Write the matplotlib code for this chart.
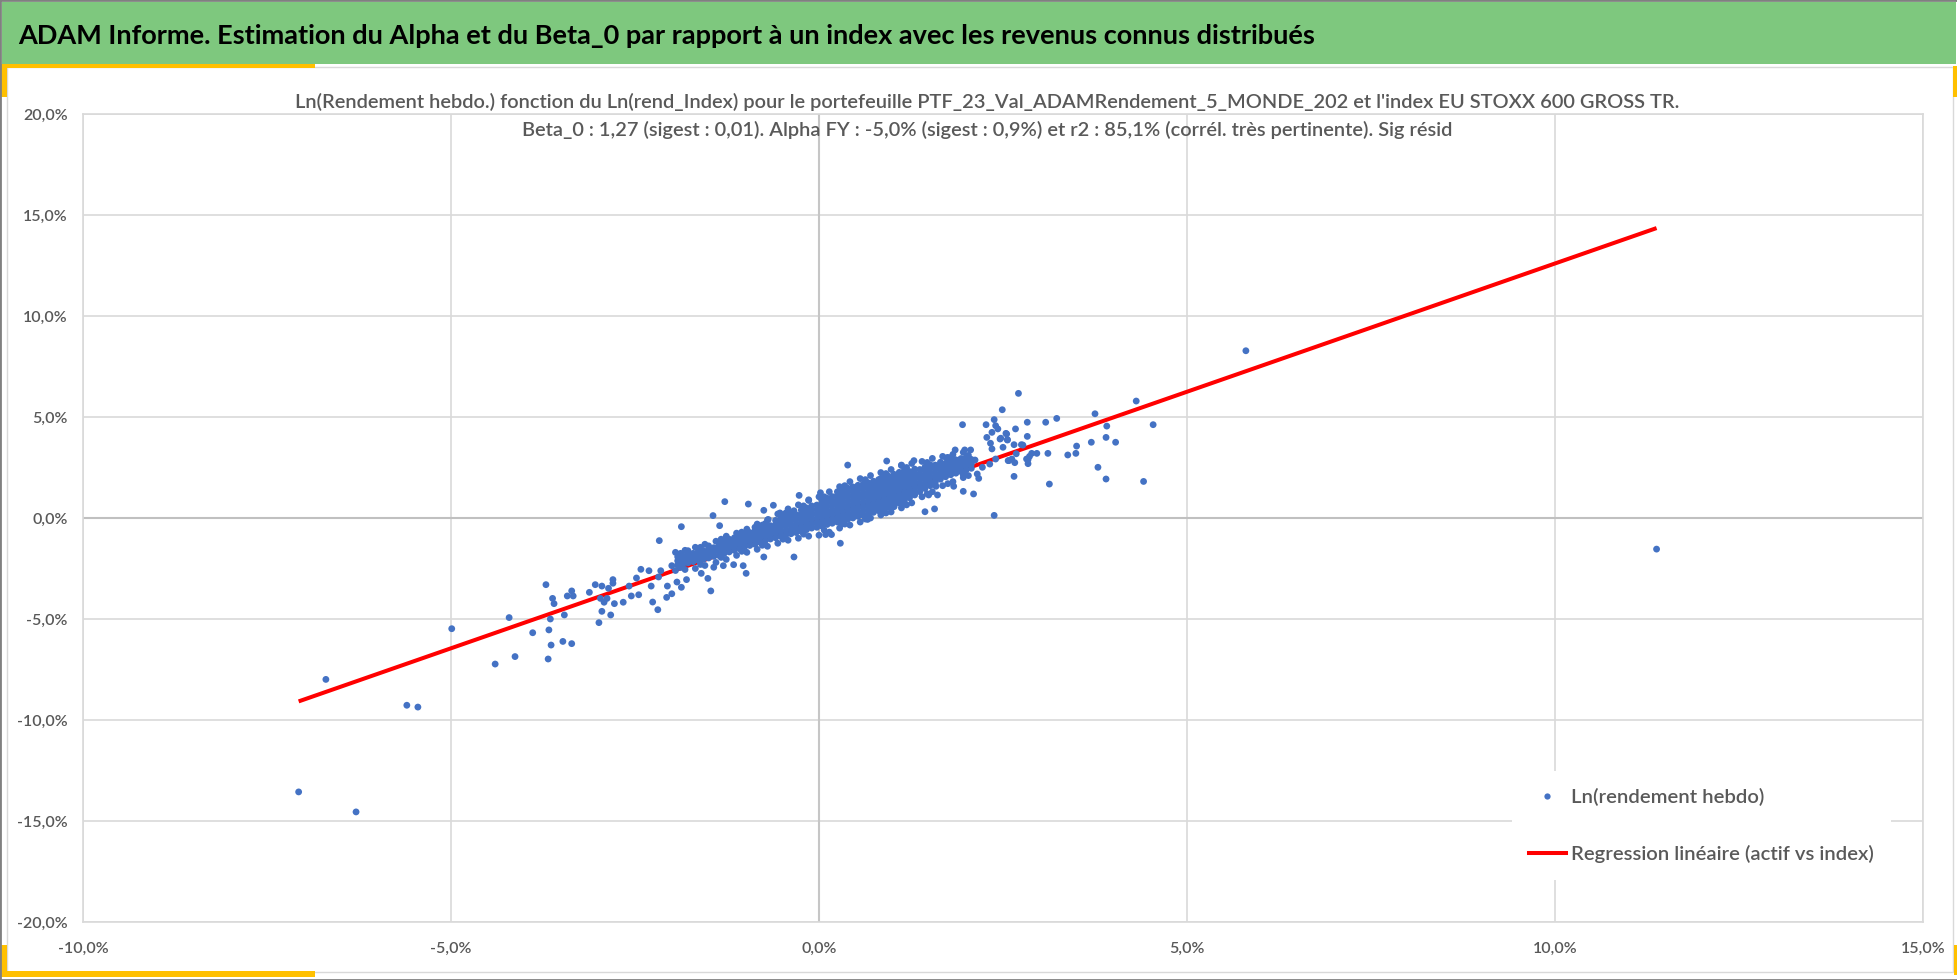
import matplotlib
matplotlib.use("Agg")
import matplotlib.pyplot as plt
from matplotlib import font_manager
from matplotlib.patches import Rectangle
from matplotlib.lines import Line2D
from matplotlib.ticker import FuncFormatter, MultipleLocator

# ---- data (weekly log returns, in %) ----
# dense core of the cloud, read column by column
core_cols = [
    (-1.92, [-2.32, -2.12, -1.92]),
    (-1.85, [-2.28, -2.08, -1.88]),
    (-1.78, [-2.22, -2.0, -1.8, -1.62]),
    (-1.71, [-2.16, -1.95, -1.75]),
    (-1.64, [-2.1, -1.9, -1.7, -1.55]),
    (-1.57, [-2.04, -1.82, -1.62]),
    (-1.50, [-1.98, -1.76, -1.56, -1.38]),
    (-1.43, [-1.9, -1.68, -1.47]),
    (-1.36, [-1.85, -1.62, -1.4, -1.22]),
    (-1.29, [-1.76, -1.54, -1.33, -1.14]),
    (-1.22, [-1.68, -1.46, -1.25, -1.05]),
    (-1.15, [-1.6, -1.38, -1.17, -0.98]),
    (-1.08, [-1.52, -1.3, -1.08, -0.88]),
    (-1.01, [-1.42, -1.22, -1.0, -0.78]),
    (-0.94, [-1.36, -1.14, -0.92, -0.72]),
    (-0.87, [-1.3, -1.08, -0.86, -0.64, -0.46]),
    (-0.80, [-1.2, -0.98, -0.76, -0.55]),
    (-0.73, [-1.12, -0.9, -0.68, -0.46, -0.28]),
    (-0.66, [-1.04, -0.82, -0.6, -0.38]),
    (-0.59, [-0.98, -0.76, -0.54, -0.32, -0.12]),
    (-0.52, [-0.9, -0.68, -0.46, -0.24, -0.02]),
    (-0.45, [-0.84, -0.62, -0.4, -0.18, 0.04]),
    (-0.38, [-0.78, -0.56, -0.34, -0.12, 0.1, 0.25]),
    (-0.31, [-0.72, -0.5, -0.28, -0.06, 0.16]),
    (-0.24, [-0.66, -0.44, -0.22, 0.0, 0.22, 0.4]),
    (-0.17, [-0.58, -0.36, -0.14, 0.08, 0.3, 0.5]),
    (-0.10, [-0.5, -0.28, -0.06, 0.16, 0.38, 0.6]),
    (-0.03, [-0.46, -0.24, -0.02, 0.2, 0.42, 0.64]),
    (0.04, [-0.4, -0.18, 0.04, 0.26, 0.48, 0.7, 0.88]),
    (0.11, [-0.32, -0.1, 0.12, 0.34, 0.56, 0.78, 0.98]),
    (0.18, [-0.26, -0.04, 0.18, 0.4, 0.62, 0.84, 1.06]),
    (0.25, [-0.2, 0.02, 0.24, 0.46, 0.68, 0.9, 1.12, 1.3]),
    (0.32, [-0.12, 0.1, 0.32, 0.54, 0.76, 0.98, 1.2, 1.4]),
    (0.39, [-0.06, 0.16, 0.38, 0.6, 0.82, 1.04, 1.26, 1.48]),
    (0.46, [0.0, 0.22, 0.44, 0.66, 0.88, 1.1, 1.32, 1.54]),
    (0.53, [0.08, 0.3, 0.52, 0.74, 0.96, 1.18, 1.4, 1.62]),
    (0.60, [0.14, 0.36, 0.58, 0.8, 1.02, 1.24, 1.46, 1.68]),
    (0.67, [0.2, 0.42, 0.64, 0.86, 1.08, 1.3, 1.52, 1.74]),
    (0.74, [0.28, 0.5, 0.72, 0.94, 1.16, 1.38, 1.6, 1.82]),
    (0.81, [0.36, 0.58, 0.8, 1.02, 1.24, 1.46, 1.68, 1.9]),
    (0.88, [0.44, 0.66, 0.88, 1.1, 1.32, 1.54, 1.76, 1.98]),
    (0.95, [0.54, 0.76, 0.98, 1.2, 1.42, 1.64, 1.86, 2.06]),
    (1.02, [0.64, 0.86, 1.08, 1.3, 1.52, 1.74, 1.96, 2.16]),
    (1.09, [0.74, 0.96, 1.18, 1.4, 1.62, 1.84, 2.06, 2.26]),
    (1.16, [0.86, 1.08, 1.3, 1.52, 1.74, 1.96, 2.18, 2.36]),
    (1.23, [1.0, 1.22, 1.44, 1.66, 1.88, 2.1, 2.3]),
    (1.30, [1.14, 1.36, 1.58, 1.8, 2.02, 2.22, 2.42]),
    (1.37, [1.3, 1.52, 1.74, 1.96, 2.18, 2.4]),
    (1.44, [1.46, 1.68, 1.9, 2.12, 2.34, 2.52]),
    (1.51, [1.6, 1.82, 2.04, 2.26, 2.48, 2.64]),
    (1.58, [1.76, 1.98, 2.2, 2.42, 2.62]),
    (1.65, [1.92, 2.14, 2.36, 2.58, 2.76]),
    (1.72, [2.04, 2.26, 2.48, 2.7]),
    (1.79, [2.14, 2.36, 2.58, 2.8]),
    (1.86, [2.22, 2.44, 2.66, 2.88]),
    (1.93, [2.3, 2.52, 2.74, 2.94]),
    (2.00, [2.38, 2.6, 2.82, 3.0]),
    (2.07, [2.46, 2.68, 2.9]),
]
core_x = [cx for cx, ys in core_cols for _ in ys]
core_y = [cy for _, ys in core_cols for cy in ys]

# speckled edge of the core band
fringe_x = [-1.95, -1.82, -1.68, -1.55, -1.40, -1.26, -1.12, -0.98, -0.84, -0.70,
            -0.56, -0.42, -0.28, -0.14, 0.00, 0.14, 0.28, 0.42, 0.56, 0.70,
            0.84, 0.98, 1.12, 1.26, 1.40, 1.54, 1.68, 1.82, 1.96,
            -1.95, -1.82, -1.68, -1.55, -1.40, -1.26, -1.12, -0.98, -0.84, -0.70,
            -0.56, -0.42, -0.28, -0.14, 0.00, 0.14, 0.28, 0.42, 0.56, 0.70,
            0.84, 0.98, 1.12, 1.26, 1.40, 1.54, 1.68, 1.82, 1.96,
            -1.88, -1.61, -1.33, -1.05, -0.77, -0.49, -0.21, 0.07, 0.35, 0.63,
            0.91, 1.19, 1.47, 1.75, 2.03,
            -1.88, -1.61, -1.33, -1.05, -0.77, -0.49, -0.21, 0.07, 0.35, 0.63,
            0.91, 1.19, 1.47, 1.75, 2.03]
fringe_y = [-2.60, -2.55, -2.50, -2.35, -2.20, -2.05, -1.85, -1.70, -1.55, -1.40,
            -1.25, -1.10, -1.00, -0.90, -0.85, -0.70, -0.50, -0.35, -0.20, 0.00,
            0.15, 0.30, 0.50, 0.75, 1.05, 1.30, 1.60, 1.80, 2.00,
            -1.70, -1.60, -1.45, -1.30, -1.15, -0.90, -0.75, -0.55, -0.30, -0.10,
            0.20, 0.45, 0.65, 0.90, 1.05, 1.30, 1.55, 1.80, 1.95, 2.10,
            2.25, 2.40, 2.60, 2.70, 2.80, 2.95, 3.05, 3.15, 3.25,
            -2.45, -2.30, -1.95, -1.65, -1.35, -1.05, -0.80, -0.60, -0.30, -0.05,
            0.25, 0.65, 1.20, 1.70, 2.10,
            -1.75, -1.45, -1.05, -0.70, -0.35, 0.05, 0.60, 1.05, 1.60, 1.90,
            2.20, 2.50, 2.75, 3.00, 3.10]

# scattered points around the core
spread_x = [-7.07, -6.29, -6.70, -5.60, -5.45, -4.99, -4.40, -4.21, -4.13, -3.89,
            -3.71, -3.62, -3.60, -3.65, -3.67, -3.64, -3.68, -3.48, -3.36, -3.46,
            -3.42, -3.36, -3.34, -3.12, -3.04, -2.95, -2.97, -2.92, -2.88, -2.86,
            -2.80, -2.80, -2.78, -2.95, -2.83, -2.99,
            0.39, 0.02, -0.14, -0.27, -0.62, -0.75, -0.96, -1.28, -1.44, -1.35,
            -1.87, -2.17, -0.69, -0.53, -0.45, -0.34, 0.10, 0.29, 0.17, 0.09,
            -0.34, -0.75, -0.99, -1.03, -1.16, -1.30, -1.47, -1.51, -1.43, -1.60,
            -1.87, -1.80, -1.93, -2.00, -2.06, -2.07, -2.19, -2.26, -2.28, -2.18,
            -2.15, -2.00, -1.90, -2.42, -2.31, -2.48, -2.45, -2.55, -2.58, -2.66,
            2.71, 2.49, 1.95, 2.27, 2.38, 2.40, 2.43, 2.35, 2.28, 2.46,
            2.54, 2.67, 2.83, 3.08, 3.23, 3.75, 2.83, 2.56, 2.33, 2.35,
            2.50, 2.65, 2.75, 2.89, 2.96, 3.11, 3.38, 3.49, 3.50, 3.70,
            3.79, 3.13, 2.65, 2.38, 2.10, 1.96, 2.15, 2.17, 2.86, 2.82,
            2.62, 2.57, 2.40, 2.32, 2.22, 2.12, 2.06, 1.98, 1.85, 2.04,
            1.93, 1.81, 1.73, 1.29, 0.92, 1.83, 1.96, 1.59, 1.49, 1.61,
            1.44, 1.57, 1.15, 1.02, 0.86, 0.66, 0.31, 0.84, 1.12,
            5.80, 4.31, 4.54, 3.91, 3.90, 4.03, 3.90, 4.41, 2.84, 2.84,
            2.77, 2.68, 2.66, 2.56, 2.55, 2.47, 2.58,
            11.38]
spread_y = [-13.56, -14.55, -7.99, -9.27, -9.36, -5.48, -7.23, -4.93, -6.86, -5.68,
            -3.30, -3.98, -4.24, -5.00, -5.54, -6.29, -6.98, -6.11, -6.22, -4.80,
            -3.86, -3.61, -3.86, -3.68, -3.30, -3.37, -3.98, -4.17, -3.98, -3.48,
            -3.05, -3.23, -4.24, -4.62, -4.80, -5.18,
            2.62, 1.25, 0.87, 1.12, 0.63, 0.38, 0.69, 0.81, 0.12, -0.38,
            -0.43, -1.12, -0.07, 0.25, 0.25, 0.36, 0.97, -1.25, -0.82, -0.82,
            -1.93, -1.93, -2.74, -2.36, -2.31, -2.36, -3.61, -2.99, -2.44, -2.74,
            -3.43, -3.05, -3.17, -3.75, -3.37, -3.93, -4.54, -4.16, -3.37, -2.92,
            -2.61, -2.36, -2.16, -2.54, -2.61, -2.97, -3.80, -3.86, -3.37, -4.17,
            6.17, 5.36, 4.62, 4.62, 4.87, 4.57, 4.41, 4.24, 3.99, 3.91,
            4.19, 4.41, 4.74, 4.74, 4.93, 5.16, 4.04, 3.86, 3.70, 3.42,
            3.50, 3.63, 3.63, 3.20, 3.20, 3.20, 3.12, 3.20, 3.56, 3.75,
            2.51, 1.68, 2.06, 0.13, 1.19, 1.32, 2.18, 1.96, 3.05, 2.92,
            2.92, 2.84, 2.92, 2.67, 2.51, 2.87, 3.37, 3.37, 3.37, 2.92,
            2.92, 3.05, 2.97, 2.84, 2.82, 1.57, 2.14, 1.57, 1.14, 1.14,
            0.31, 0.45, 0.69, 0.56, 0.25, -0.07, -0.30, 1.96, 2.62,
            8.28, 5.79, 4.62, 4.55, 3.99, 3.75, 1.93, 1.81, 2.89, 2.69,
            3.61, 3.18, 2.74, 3.88, 4.16, 3.95, 2.84,
            -1.54]

beta_0 = 1.27
alpha_week = -0.10

title = "ADAM Informe. Estimation du Alpha et du Beta_0 par rapport à un index avec les revenus connus distribués"
sub1 = ("Ln(Rendement hebdo.) fonction du Ln(rend_Index) pour le portefeuille "
        "PTF_23_Val_ADAMRendement_5_MONDE_202 et l'index EU STOXX 600 GROSS TR.")
sub2 = ("Beta_0 : 1,27 (sigest : 0,01). Alpha FY : -5,0% (sigest : 0,9%) et r2 : 85,1% "
        "(corrél. très pertinente). Sig résid")
label_pts = "Ln(rendement hebdo)"
label_reg = "Regression linéaire (actif vs index)"

# ---- fonts ----
names = {f.name for f in font_manager.fontManager.ttflist}
FONT = "Lato" if "Lato" in names else "Liberation Sans"
plt.rcParams["font.family"] = [FONT, "DejaVu Sans"]

GREY_TXT = "#595959"
GRID = "#d9d9d9"
BLUE = "#4472c4"
GOLD = "#ffc000"
GREEN = "#7ec87e"

W, H = 1958, 980
fig = plt.figure(figsize=(W / 100, H / 100), dpi=100)
fig.patch.set_facecolor("white")


def box(x0, y0, x1, y1, color, z=1):
    # pixel box, measured from the top-left corner
    fig.add_artist(Rectangle((x0 / W, 1 - y1 / H), (x1 - x0) / W, (y1 - y0) / H,
                             transform=fig.transFigure, facecolor=color,
                             edgecolor="none", zorder=z))


# frame, banner and gold corners
fig.add_artist(Rectangle((7 / W, 1 - 972 / H), 1946 / W, 905 / H, transform=fig.transFigure,
                         fill=False, edgecolor=GRID, lw=1, zorder=0))
box(2, 2, 1956, 64, GREEN)
box(0, 64, 315, 68, GOLD)
box(0, 64, 7, 97, GOLD)
box(0, 971, 315, 977, GOLD)
box(0, 945, 7, 977, GOLD)
box(1953, 66, 1957, 97, GOLD)
box(1954, 945, 1957, 975, GOLD)
fig.add_artist(Rectangle((0, 0), 1, 1, transform=fig.transFigure, fill=False,
                         edgecolor="#808080", lw=2, zorder=5))

fig.text(18 / W, 1 - 44 / H, title, fontsize=19.5, fontweight="bold", color="black",
         ha="left", va="baseline")
fig.text(987 / W, 1 - 108 / H, sub1, fontsize=14.4, fontweight="semibold", color=GREY_TXT,
         ha="center", va="baseline")
fig.text(987 / W, 1 - 136 / H, sub2, fontsize=14.4, fontweight="semibold", color=GREY_TXT,
         ha="center", va="baseline")

ax = fig.add_axes([83 / W, 1 - 922 / H, (1923 - 83) / W, (922 - 114) / H])
ax.set_xlim(-10, 15)
ax.set_ylim(-20, 20)
ax.xaxis.set_major_locator(MultipleLocator(5))
ax.yaxis.set_major_locator(MultipleLocator(5))
pct = FuncFormatter(lambda v, p: f"{v:.1f}%".replace(".", ","))
ax.xaxis.set_major_formatter(pct)
ax.yaxis.set_major_formatter(pct)
ax.tick_params(length=0, labelsize=11.5, labelcolor=GREY_TXT)
ax.tick_params(axis="x", pad=14)
ax.tick_params(axis="y", pad=11)
for lab in ax.get_xticklabels() + ax.get_yticklabels():
    lab.set_fontweight("semibold")
ax.grid(True, color=GRID, lw=1.2)
ax.set_axisbelow(True)
for s in ax.spines.values():
    s.set_color(GRID)
    s.set_linewidth(1.2)
ax.axhline(0, color="#c0c0c0", lw=1.5, zorder=1)
ax.axvline(0, color="#c6c6c6", lw=1.5, zorder=1)

all_x = core_x + fringe_x + spread_x
all_y = core_y + fringe_y + spread_y
xl = [min(all_x), max(all_x)]
yl = [alpha_week + beta_0 * v for v in xl]
ax.plot(xl, yl, color="#ff0000", lw=2.9, zorder=2, solid_capstyle="butt")
ax.scatter(all_x, all_y, s=24, color=BLUE, edgecolors="none", zorder=3)

handles = [Line2D([], [], ls="none", marker="o", markersize=4.5, color=BLUE, markeredgewidth=0),
           Line2D([], [], color="#ff0000", lw=2.9)]
leg = ax.legend(handles, [label_pts, label_reg], loc="upper left",
                bbox_to_anchor=(1512 / W, 1 - 771 / H), bbox_transform=fig.transFigure,
                fontsize=14.6, frameon=True, facecolor="white", edgecolor="none",
                framealpha=1, fancybox=False, borderpad=0.85, borderaxespad=0,
                labelspacing=1.9, handlelength=1.8, handletextpad=0.25)
for t in leg.get_texts():
    t.set_color(GREY_TXT)
    t.set_fontweight("semibold")

fig.savefig("out.png", dpi=100)
